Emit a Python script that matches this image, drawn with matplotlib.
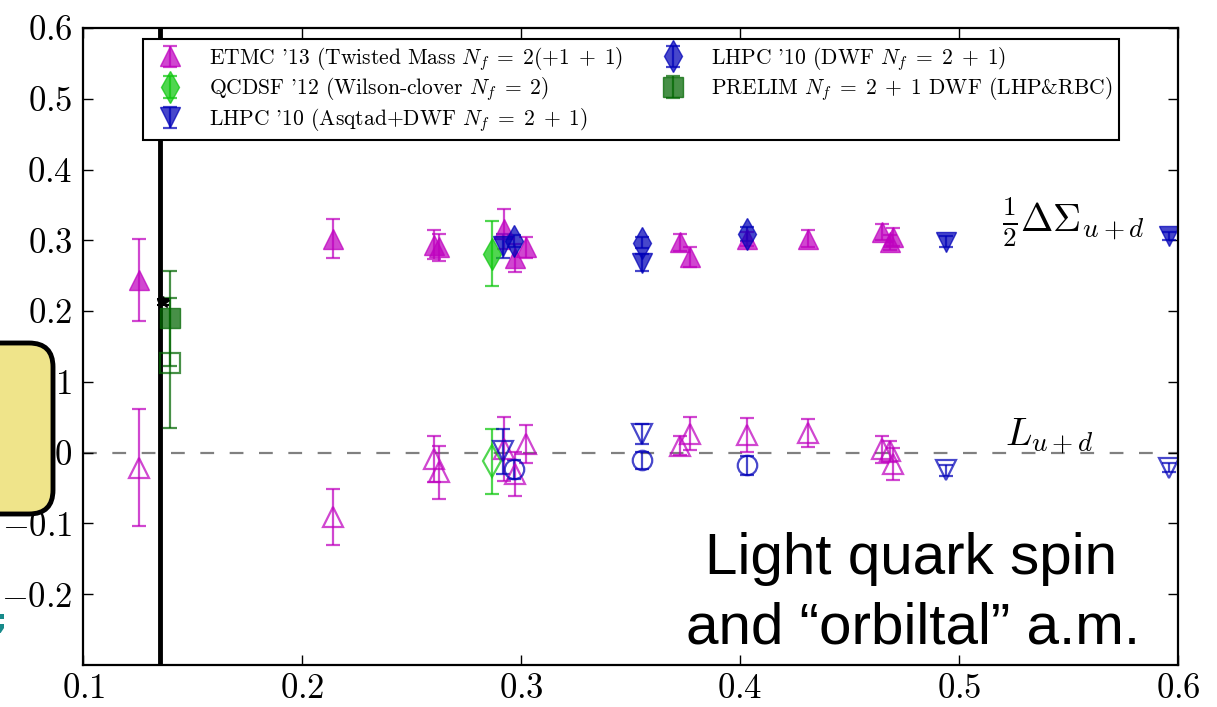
import matplotlib
matplotlib.use('Agg')
import matplotlib.pyplot as plt
from matplotlib.patches import FancyBboxPatch

plt.rcParams['mathtext.fontset'] = 'cm'
plt.rcParams['font.family'] = ['cmr10', 'DejaVu Serif']
plt.rcParams['axes.formatter.use_mathtext'] = True

# ---------------- data ----------------
# ETMC '13 (filled: 1/2 DeltaSigma, open: L)
etmc_x = [0.1254, 0.2138, 0.2603, 0.2622, 0.2920, 0.2972, 0.3022,
          0.3727, 0.3773, 0.4029, 0.4310, 0.4650, 0.4685, 0.4700]
etmc_spin = [0.244, 0.3025, 0.294, 0.290, 0.316, 0.275, 0.290,
             0.297, 0.276, 0.302, 0.302, 0.312, 0.297, 0.305]
etmc_spin_err = [0.058, 0.027, 0.021, 0.019, 0.028, 0.020, 0.015,
                 0.012, 0.014, 0.010, 0.012, 0.011, 0.010, 0.013]
etmc_orb = [-0.021, -0.091, -0.009, -0.028, 0.005, -0.030, 0.012,
            0.010, 0.027, 0.025, 0.028, 0.005, 0.002, -0.016]
etmc_orb_err = [0.083, 0.040, 0.033, 0.037, 0.045, 0.031, 0.027,
                0.013, 0.023, 0.024, 0.020, 0.019, 0.015, 0.022]

# QCDSF '12
qcdsf_x = [0.2866]
qcdsf_spin = [0.281]
qcdsf_spin_err = [0.046]
qcdsf_orb = [-0.012]
qcdsf_orb_err = [0.046]

# LHPC '10 (Asqtad+DWF)
lhpc_a_x = [0.2917, 0.3552, 0.4942, 0.5960]
lhpc_a_spin = [0.292, 0.268, 0.298, 0.306]
lhpc_a_spin_err = [0.017, 0.012, 0.008, 0.006]
lhpc_a_orb = [0.002, 0.026, -0.025, -0.021]
lhpc_a_orb_err = [0.032, 0.014, 0.008, 0.006]

# LHPC '10 (DWF)
lhpc_d_x = [0.2965, 0.3552, 0.4029]
lhpc_d_spin = [0.299, 0.2966, 0.3085]
lhpc_d_spin_err = [0.008, 0.008, 0.010]
lhpc_d_orb = [-0.0235, -0.011, -0.018]
lhpc_d_orb_err = [0.013, 0.012, 0.013]

# PRELIM (LHP&RBC)
prelim_x = [0.1396]
prelim_spin = [0.190]
prelim_spin_err = [0.067]
prelim_orb = [0.127]
prelim_orb_err = [0.092]

# experiment point
expt_x = [0.1365]
expt_y = [0.213]

phys_mpi = 0.135

xticks = [0.1, 0.2, 0.3, 0.4, 0.5, 0.6]
xticklabels = ['$0.1$', '$0.2$', '$0.3$', '$0.4$', '$0.5$', '$0.6$']
yticks = [-0.2, -0.1, 0.0, 0.1, 0.2, 0.3, 0.4, 0.5, 0.6]
yticklabels = ['$-0.2$', '$-0.1$', '$0$', '$0.1$', '$0.2$', '$0.3$',
               '$0.4$', '$0.5$', '$0.6$']

labels = [r"ETMC '13 (Twisted Mass $N_f\;=\;2(+1\;+\;1)$",
          r"QCDSF '12 (Wilson-clover $N_f\;=\;2$)",
          r"LHPC '10 (Asqtad+DWF $N_f\;=\;2\;+\;1$)",
          r"LHPC '10 (DWF $N_f\;=\;2\;+\;1$)",
          r"PRELIM $N_f\;=\;2\;+\;1$ DWF (LHP&RBC)"]

# ---------------- styles ----------------
c_etmc = (0.75, 0.0, 0.75)
c_qcdsf = (0.05, 0.78, 0.05)
c_blue = (0.0, 0.0, 0.72)
c_prelim = (0.0, 0.40, 0.0)
alpha = 0.72
ms = 14
eb = dict(capsize=5, elinewidth=1.6, capthick=1.6, ls='none', alpha=alpha)

fig = plt.figure(figsize=(12.17, 7.07), dpi=100)
ax = fig.add_axes([0.0686, 0.0594, 0.8993, 0.901])

ax.axvline(phys_mpi, color='k', lw=3.5, zorder=1)
ax.axhline(0.0, color='gray', lw=1.6, dashes=(6.2, 7.0), zorder=1)

h1 = ax.errorbar(etmc_x, etmc_spin, yerr=etmc_spin_err, fmt='^', color=c_etmc,
                 ms=ms, label=labels[0], **eb)
ax.errorbar(etmc_x, etmc_orb, yerr=etmc_orb_err, fmt='^', color=c_etmc,
            mfc='none', mec=c_etmc, mew=1.6, ms=ms, **eb)

h2 = ax.errorbar(qcdsf_x, qcdsf_spin, yerr=qcdsf_spin_err, fmt='d', color=c_qcdsf,
                 ms=ms + 2, label=labels[1], **eb)
ax.errorbar(qcdsf_x, qcdsf_orb, yerr=qcdsf_orb_err, fmt='d', color=c_qcdsf,
            mfc='none', mec=c_qcdsf, mew=1.6, ms=ms + 2, **eb)

h3 = ax.errorbar(lhpc_a_x, lhpc_a_spin, yerr=lhpc_a_spin_err, fmt='v', color=c_blue,
                 ms=ms, label=labels[2], **eb)
ax.errorbar(lhpc_a_x, lhpc_a_orb, yerr=lhpc_a_orb_err, fmt='v', color=c_blue,
            mfc='none', mec=c_blue, mew=1.6, ms=ms, **eb)

h4 = ax.errorbar(lhpc_d_x, lhpc_d_spin, yerr=lhpc_d_spin_err, fmt='d', color=c_blue,
                 ms=ms + 2, label=labels[3], **eb)
ax.errorbar(lhpc_d_x, lhpc_d_orb, yerr=lhpc_d_orb_err, fmt='o', color=c_blue,
            mfc='none', mec=c_blue, mew=1.6, ms=ms, **eb)

h5 = ax.errorbar(prelim_x, prelim_spin, yerr=prelim_spin_err, fmt='s', color=c_prelim,
                 ms=ms, label=labels[4], **eb)
ax.errorbar(prelim_x, prelim_orb, yerr=prelim_orb_err, fmt='s', color=c_prelim,
            mfc='none', mec=c_prelim, mew=1.6, ms=ms, **eb)

ax.errorbar(expt_x, expt_y, yerr=[0.004], fmt='*', color='k', ms=9,
            capsize=4, elinewidth=1.5, capthick=1.5, ls='none')

ax.set_xlim(0.1, 0.6)
ax.set_ylim(-0.3, 0.6)
ax.set_xticks(xticks)
ax.set_xticklabels(xticklabels)
ax.set_yticks(yticks)
ax.set_yticklabels(yticklabels)
ax.tick_params(direction='in', length=7, width=1, top=True, right=True,
               labelsize=25)
ax.tick_params(axis='x', pad=6)
ax.tick_params(axis='y', pad=8)
for s in ax.spines.values():
    s.set_linewidth(1.6)

leg = ax.legend(handles=[h1, h2, h3, h4, h5], labels=labels, loc='upper center',
                ncol=2, fontsize=15.5, numpoints=1, fancybox=False, framealpha=1,
                edgecolor='k', labelspacing=0.12, borderaxespad=0.5,
                borderpad=0.28, handletextpad=0.8, columnspacing=1.3)
leg.get_frame().set_linewidth(1.5)

ax.text(0.5195, 0.326, r'$\frac{1}{2}\Delta\Sigma_{u+d}$', fontsize=28,
        ha='left', va='center')
ax.text(0.521, 0.0095, r'$L_{u+d}$', fontsize=28, ha='left', va='baseline')

sans = ['Liberation Sans', 'DejaVu Sans']
ax.text(0.478, -0.1715, 'Light quark spin', fontsize=42, family=sans,
        ha='center', va='baseline')
ax.text(0.479, -0.2690, 'and \u201corbiltal\u201d a.m.', fontsize=42, family=sans,
        ha='center', va='baseline')

# overlay elements of the slide
box = FancyBboxPatch((-0.6, 1.93), 1.13, 1.71,
                     boxstyle='round,pad=0,rounding_size=0.24',
                     transform=fig.dpi_scale_trans, facecolor='#efe48a',
                     edgecolor='k', lw=3.5, zorder=10)
fig.patches.append(box)
fig.text(6 / 1217, 1 - 630 / 707, ';', color='#178a8a', fontsize=20, fontweight='bold',
         family=['DejaVu Sans'], ha='right', va='baseline', zorder=11)

fig.savefig('out.png', dpi=100)
